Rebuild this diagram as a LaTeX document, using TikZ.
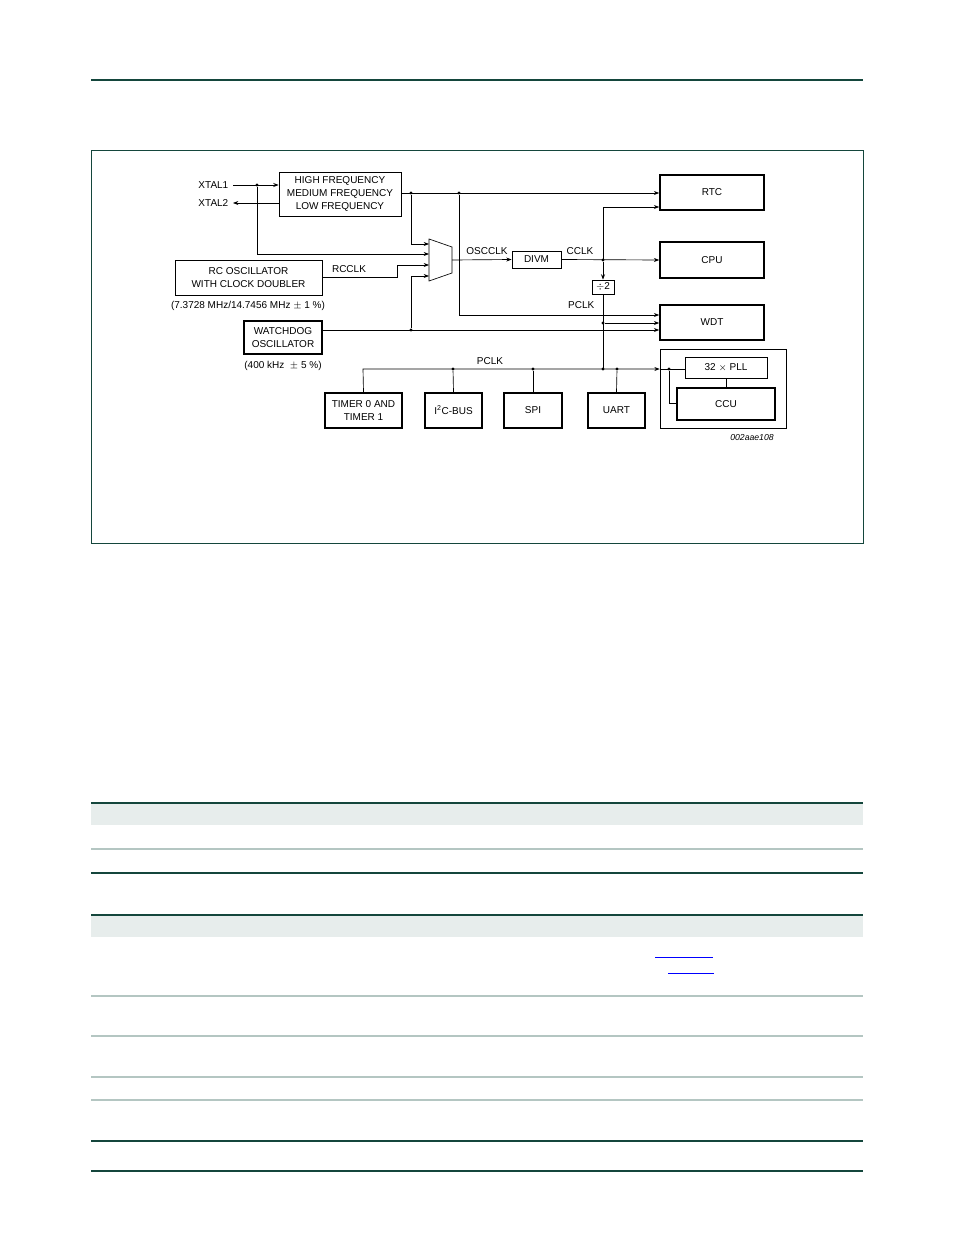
\documentclass[tikz,border=0pt]{standalone}
\usepackage{fontspec}
\setmainfont{Liberation Sans}
\usetikzlibrary{arrows.meta}
\definecolor{teal}{RGB}{20,70,60}
\definecolor{hdr}{RGB}{231,237,236}
\definecolor{rule}{RGB}{180,198,194}
\begin{document}
\begin{tikzpicture}[x=0.75pt,y=-0.75pt,font=\fontsize{7.5}{10}\selectfont,
  blk/.style={draw,line width=0.6pt,align=center,inner sep=0pt},
  tblk/.style={draw,line width=1.2pt,align=center,inner sep=0pt},
  ln/.style={line width=0.5pt},
  arr/.style={ln,-{Stealth[length=4pt,width=3pt]}},
  dot/.style={circle,fill,inner sep=0pt,minimum size=2.5pt}]
\useasboundingbox (0,0) rectangle (954,1235);
\draw[teal,line width=0.8pt] (91,80) -- (863,80);
\draw[teal,line width=0.6pt] (91,150) rectangle (863,543);
% boxes
\node[blk,minimum width=122*0.75pt,minimum height=44*0.75pt] (hf) at (340,194) {HIGH FREQUENCY\\MEDIUM FREQUENCY\\LOW FREQUENCY};
\node[blk,minimum width=147*0.75pt,minimum height=35*0.75pt] (rc) at (248.5,277.5) {RC OSCILLATOR\\WITH CLOCK DOUBLER};
\node at (248,306) {(7.3728 MHz/14.7456 MHz $\pm$ 1 \%)};
\node[tblk,minimum width=78*0.75pt,minimum height=33*0.75pt] (wd) at (283,337.5) {WATCHDOG\\OSCILLATOR};
\node at (283,366) {(400 kHz \ $\pm$ 5 \%)};
\node[blk,minimum width=49*0.75pt,minimum height=17*0.75pt] (divm) at (536.5,259.5) {DIVM};
\node[blk,minimum width=22*0.75pt,minimum height=14*0.75pt] (div2) at (603,287) {$\div$2};
\node[tblk,minimum width=104*0.75pt,minimum height=35*0.75pt] (rtc) at (712,192.5) {RTC};
\node[tblk,minimum width=104*0.75pt,minimum height=36*0.75pt] (cpu) at (712,260) {CPU};
\node[tblk,minimum width=104*0.75pt,minimum height=35*0.75pt] (wdt) at (712,322.5) {WDT};
\node[tblk,minimum width=77*0.75pt,minimum height=35*0.75pt] (tim) at (363.5,410.5) {TIMER 0 AND\\TIMER 1};
\node[tblk,minimum width=57*0.75pt,minimum height=35*0.75pt] (i2c) at (453.5,410.5) {I\textsuperscript{2}C-BUS};
\node[tblk,minimum width=58*0.75pt,minimum height=35*0.75pt] (spi) at (533,410.5) {SPI};
\node[tblk,minimum width=57*0.75pt,minimum height=35*0.75pt] (uart) at (616.5,410.5) {UART};
\node[draw,ln,minimum width=126*0.75pt,minimum height=79*0.75pt] (outer) at (723,388.5) {};
\node[blk,minimum width=82*0.75pt,minimum height=21*0.75pt] (pll) at (726,367.5) {32 $\times$ PLL};
\node[tblk,minimum width=98*0.75pt,minimum height=32*0.75pt] (ccu) at (726,404) {CCU};
\node[font=\fontsize{6.5}{7}\selectfont\itshape] at (752,438) {002aae108};
% mux
\draw[ln] (429,239) -- (452,247) -- (452,273) -- (429,281) -- cycle;
\coordinate (mux) at (452,260);
% xtal
\node[anchor=east] (x1) at (233,185) {XTAL1};
\node[anchor=east] (x2) at (233,203) {XTAL2};
\draw[arr] (x1.east) -- (hf.west|-x1);
\draw[arr] (hf.west|-x2) -- (x2.east);
\node[dot] (d1) at (257,185) {};
\draw[arr] (d1) -- (257,254) -- (429,254);
% hf output
\node[dot] (d2) at (411,193) {};
\node[dot] (d3) at (459,193) {};
\draw[arr] (hf.east|-d2) -- (rtc.west|-d2);
\draw[arr] (d2) -- (411,244) -- (429,244);
\draw[arr] (d3) -- (459,315) -- (wdt.west|-0,315);
% rc
\draw[arr] (rc.east|-0,277) -- (397,277) -- (397,265) -- (429,265);
\node[anchor=south] at (349,277) {RCCLK};
% watchdog
\node[dot] (d4) at (411,330) {};
\draw[arr] (wd.east|-d4) -- (wdt.west|-d4);
\draw[arr] (d4) -- (411,276) -- (429,276);
% osc
\draw[arr] (mux) -- (divm.west);
\node[anchor=south] at (487,259) {OSCCLK};
\draw[arr] (divm.east) -- (cpu.west);
\node[anchor=south] at (580,259) {CCLK};
\node[dot] (d5) at (603,260) {};
\draw[arr] (d5) -- (div2.north);
\draw[arr] (div2.north|-d5) -- (603,207) -- (rtc.west|-0,207);
\node[anchor=east] at (599,305) {PCLK};
\node[dot] (d6) at (603,323) {};
\draw[arr] (d6) -- (wdt.west|-d6);
\draw[ln] (div2.south) -- (603,369);
% pclk bus
\node[dot] (b1) at (453,369) {};
\node[dot] (b2) at (533,369) {};
\node[dot] (b3) at (603,369) {};
\node[dot] (b4) at (617,369) {};
\draw[arr] (tim.north) -- (363,369) -- (outer.west|-0,369);
\node[anchor=south] at (490,369) {PCLK};
\draw[ln] (b1) -- (i2c.north); \draw[ln] (b2) -- (spi.north); \draw[ln] (b4) -- (uart.north);
\node[dot] (b5) at (669,369) {};
\draw[ln] (outer.west|-b5) -- (pll.west|-b5);
\draw[ln] (b5) -- (669,403) -- (ccu.west|-0,403);
\draw[ln] (pll.south) -- (pll.south|-ccu.north);
% tables
\fill[hdr] (91,803) rectangle (863,825);
\fill[hdr] (91,915) rectangle (863,937);
\foreach \y in {803,873,915,1141,1171} \draw[teal,line width=0.8pt] (91,\y) -- (863,\y);
\foreach \y in {849,996,1036,1077,1100} \draw[rule,line width=0.8pt] (91,\y) -- (863,\y);
\draw[blue,line width=0.6pt] (655,957) -- (713,957);
\draw[blue,line width=0.6pt] (668,973) -- (714,973);
\end{tikzpicture}
\end{document}
